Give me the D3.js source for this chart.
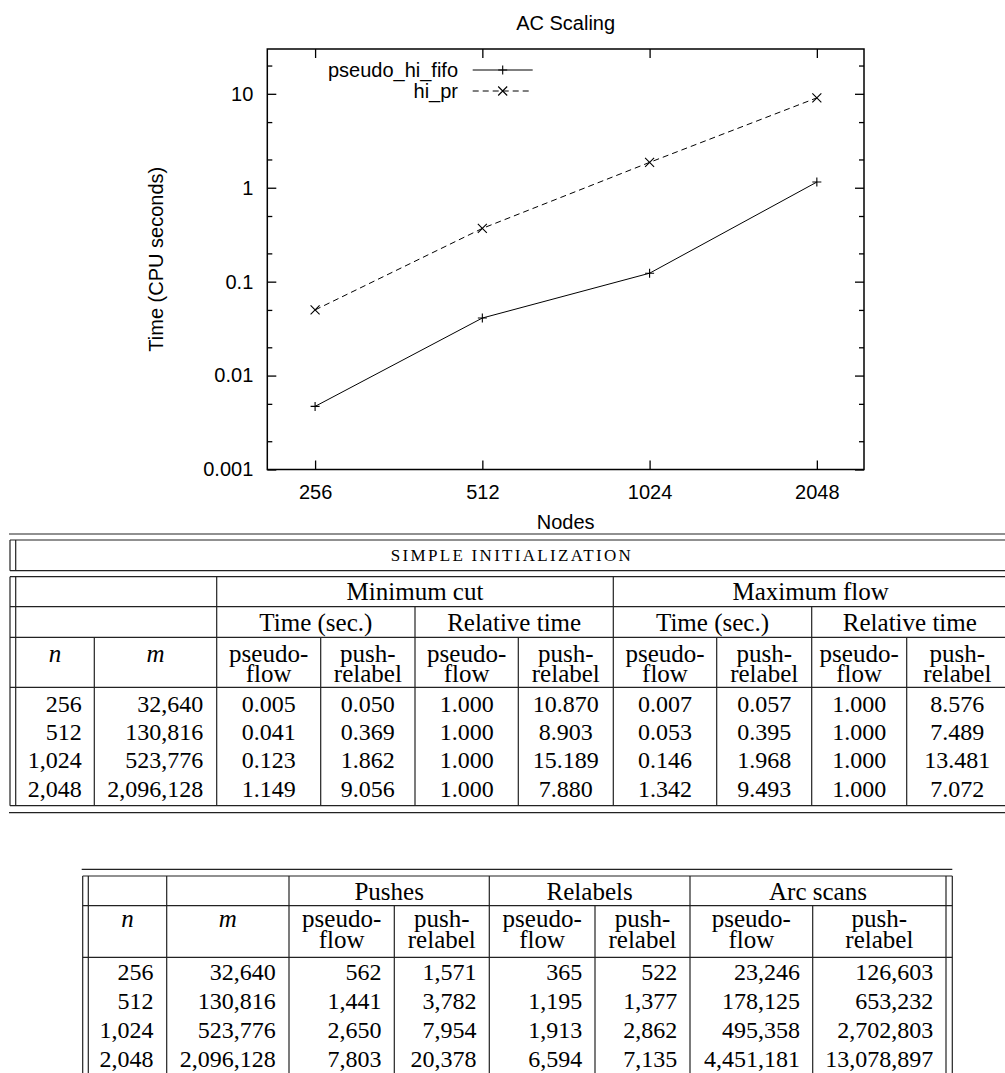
<!DOCTYPE html>
<html>
<head>
<meta charset="utf-8">
<title>AC Scaling</title>
<style>
  body { margin: 0; background: #fff; }
  svg text { fill: #000; }
  .sans { font-family: "Liberation Sans", Arial, sans-serif; font-size: 20px; }
  .serif { font-family: "Liberation Serif", "Times New Roman", serif; }
</style>
</head>
<body>
<div id="chart"></div>
<script src="https://d3js.org/d3.v7.min.js"></script>
<script>

// ---- data ----
var nodes = [256, 512, 1024, 2048];
var arcs = [32640, 130816, 523776, 2096128];

// values
var seriesNames = ['pseudo_hi_fifo', 'hi_pr'];
var plotPseudo = [0.0047, 0.041, 0.123, 1.149];
var plotHiPr = [0.050, 0.369, 1.862, 9.056];

var yTicks = [0.001, 0.01, 0.1, 1, 10];
var yTickLabels = ['0.001', '0.01', '0.1', '1', '10'];
var yMinor = [0.002, 0.005, 0.02, 0.05, 0.2, 0.5, 2, 5, 20];

// table 1 (simple initialization)
var cutPseudo = [0.005, 0.041, 0.123, 1.149];
var cutPush = [0.050, 0.369, 1.862, 9.056];
var cutRelPseudo = [1.000, 1.000, 1.000, 1.000];
var cutRelPush = [10.870, 8.903, 15.189, 7.880];
var flowPseudo = [0.007, 0.053, 0.146, 1.342];
var flowPush = [0.057, 0.395, 1.968, 9.493];
var flowRelPseudo = [1.000, 1.000, 1.000, 1.000];
var flowRelPush = [8.576, 7.489, 13.481, 7.072];

// table 2 (operation counts)
var pushesPseudo = [562, 1441, 2650, 7803];
var pushesPush = [1571, 3782, 7954, 20378];
var relabelsPseudo = [365, 1195, 1913, 6594];
var relabelsPush = [522, 1377, 2862, 7135];
var arcScansPseudo = [23246, 178125, 495358, 4451181];
var arcScansPush = [126603, 653232, 2702803, 13078897];

var width = 1005;
var height = 1073;

var svg = d3.select('#chart')
  .append('svg')
  .attr('width', width)
  .attr('height', height)
  .style('display', 'block');

// ---- plot ----
var plot = {left: 267.3, right: 864, top: 49, bottom: 469.5};

var x = d3.scaleLog().base(2)
  .domain([210, 2490])
  .range([plot.left, plot.right]);

var y = d3.scaleLog()
  .domain([0.001, 30])
  .range([plot.bottom, plot.top]);

function cleanAxis(g) {
  g.select('.domain').remove();
  g.selectAll('.tick line').attr('stroke', '#000').attr('stroke-width', 1.3);
  g.selectAll('.tick text')
    .attr('font-family', '"Liberation Sans", Arial, sans-serif')
    .attr('font-size', 20)
    .attr('fill', '#000');
  g.attr('font-family', null).attr('font-size', null);
}

// y axis, left with labels
svg.append('g')
  .attr('transform', 'translate(' + plot.left + ',0)')
  .call(d3.axisLeft(y).tickValues(yTicks).tickSize(-9).tickSizeOuter(0).tickPadding(14)
    .tickFormat(function(d, i){ return yTickLabels[i]; }))
  .call(cleanAxis);

svg.append('g')
  .attr('transform', 'translate(' + plot.left + ',0)')
  .call(d3.axisLeft(y).tickValues(yMinor).tickSize(-5).tickSizeOuter(0).tickFormat(''))
  .call(cleanAxis);

// y axis mirrored on the right
svg.append('g')
  .attr('transform', 'translate(' + plot.right + ',0)')
  .call(d3.axisRight(y).tickValues(yTicks).tickSize(-9).tickSizeOuter(0).tickFormat(''))
  .call(cleanAxis);

svg.append('g')
  .attr('transform', 'translate(' + plot.right + ',0)')
  .call(d3.axisRight(y).tickValues(yMinor).tickSize(-5).tickSizeOuter(0).tickFormat(''))
  .call(cleanAxis);

// x axis bottom with labels, top mirrored
svg.append('g')
  .attr('transform', 'translate(0,' + plot.bottom + ')')
  .call(d3.axisBottom(x).tickValues(nodes).tickSize(-9).tickSizeOuter(0).tickPadding(15)
    .tickFormat(d3.format('d')))
  .call(cleanAxis);

svg.append('g')
  .attr('transform', 'translate(0,' + plot.top + ')')
  .call(d3.axisTop(x).tickValues(nodes).tickSize(-9).tickSizeOuter(0).tickFormat(''))
  .call(cleanAxis);

svg.append('rect')
  .attr('x', plot.left)
  .attr('y', plot.top)
  .attr('width', plot.right - plot.left)
  .attr('height', plot.bottom - plot.top)
  .attr('fill', 'none')
  .attr('stroke', '#000')
  .attr('stroke-width', 1.5);

// titles
svg.append('text').attr('class', 'sans')
  .attr('x', (plot.left + plot.right) / 2).attr('y', 23).attr('dy', '0.35em')
  .attr('text-anchor', 'middle')
  .text('AC Scaling');

svg.append('text').attr('class', 'sans')
  .attr('x', (plot.left + plot.right) / 2).attr('y', 521.7).attr('dy', '0.35em')
  .attr('text-anchor', 'middle')
  .text('Nodes');

svg.append('text').attr('class', 'sans')
  .attr('transform', 'translate(156,' + ((plot.top + plot.bottom) / 2) + ') rotate(-90)')
  .attr('dy', '0.35em')
  .attr('text-anchor', 'middle')
  .text('Time (CPU seconds)');

// series
var series = [
  {name: seriesNames[0], values: plotPseudo, dash: null, marker: 'plus'},
  {name: seriesNames[1], values: plotHiPr, dash: '6,4', marker: 'cross'}
];

var line = d3.line()
  .x(function(d){ return x(d.n); })
  .y(function(d){ return y(d.v); });

function markerPath(type, cx, cy) {
  var s = 4.5;
  if (type === 'plus') {
    return 'M' + (cx - s) + ',' + cy + 'H' + (cx + s) + 'M' + cx + ',' + (cy - s) + 'V' + (cy + s);
  }
  return 'M' + (cx - s) + ',' + (cy - s) + 'L' + (cx + s) + ',' + (cy + s) +
         'M' + (cx - s) + ',' + (cy + s) + 'L' + (cx + s) + ',' + (cy - s);
}

series.forEach(function(s){
  var pts = nodes.map(function(n, i){ return {n: n, v: s.values[i]}; });

  svg.append('path')
    .datum(pts)
    .attr('d', line)
    .attr('fill', 'none')
    .attr('stroke', '#000')
    .attr('stroke-width', 1)
    .attr('stroke-dasharray', s.dash);

  svg.selectAll('.m-' + s.marker)
    .data(pts)
    .enter()
    .append('path')
    .attr('class', 'm-' + s.marker)
    .attr('d', function(d){ return markerPath(s.marker, x(d.n), y(d.v)); })
    .attr('stroke', '#000')
    .attr('stroke-width', 1.1);
});

// legend
var legend = svg.append('g');
series.forEach(function(s, i){
  var ly = 70 + i * 21;
  legend.append('text').attr('class', 'sans')
    .attr('x', 458).attr('y', ly).attr('dy', '0.35em')
    .attr('text-anchor', 'end')
    .text(s.name);
  legend.append('line')
    .attr('x1', 472.7).attr('x2', 532.7)
    .attr('y1', ly).attr('y2', ly)
    .attr('stroke', '#000').attr('stroke-width', 1)
    .attr('stroke-dasharray', s.dash);
  legend.append('path')
    .attr('d', markerPath(s.marker, 502.7, ly))
    .attr('stroke', '#000').attr('stroke-width', 1.1);
});

// ---- tables ----
var fmtInt = d3.format(',');
var fmtSec = d3.format('.3f');
var lineColor = '#222';

function hline(g, x1, x2, yy, w) {
  g.append('line').attr('x1', x1).attr('x2', x2).attr('y1', yy).attr('y2', yy)
    .attr('stroke', lineColor).attr('stroke-width', w || 1.2);
}
function vline(g, xx, y1, y2, w) {
  g.append('line').attr('x1', xx).attr('x2', xx).attr('y1', y1).attr('y2', y2)
    .attr('stroke', lineColor).attr('stroke-width', w || 1.2);
}
function label(g, txt, xx, yy, anchor, size, italic) {
  return g.append('text').attr('class', 'serif')
    .attr('x', xx).attr('y', yy).attr('dy', '0.35em')
    .attr('text-anchor', anchor || 'middle')
    .attr('font-size', size || 25)
    .attr('font-style', italic ? 'italic' : null)
    .text(txt);
}
// two stacked words in one text element (tight LaTeX-like leading)
function twoLine(g, a, b, xx, y1, y2) {
  var t = g.append('text').attr('class', 'serif')
    .attr('x', xx).attr('y', y1)
    .attr('text-anchor', 'middle')
    .attr('font-size', 25);
  t.append('tspan').attr('x', xx).attr('dy', '0.35em').text(a);
  t.append('tspan').attr('x', xx).attr('dy', (y2 - y1)).text(b);
}

// table 1
var t1 = svg.append('g');
var c1 = [15.7, 94.3, 216.7, 320.7, 415, 518.3, 613.3, 716.7, 811.7, 906.7, 1008];
var t1L = 10, t1R = 1014;
var t1Y = {rule: 534, top: 540, r1: 570.7, r1b: 576.7, r2: 606.7, r3: 637.3, head: 687.3, row0: 703.3, pitch: 28.33, bottom: 805.7, rule2: 812.7};

hline(t1, t1L - 1, t1R, t1Y.rule);
hline(t1, t1L, t1R, t1Y.top);
hline(t1, t1L, t1R, t1Y.r1);
hline(t1, t1L, t1R, t1Y.r1b);
hline(t1, t1L, t1R, t1Y.r2);
hline(t1, t1L, t1R, t1Y.r3);
hline(t1, t1L, t1R, t1Y.head);
hline(t1, t1L, t1R, t1Y.bottom);
hline(t1, t1L - 1, t1R, t1Y.rule2);

// outer double borders
[t1L, c1[0], c1[c1.length - 1], t1R].forEach(function(xx){
  vline(t1, xx, t1Y.top, t1Y.r1);
  vline(t1, xx, t1Y.r1b, t1Y.bottom);
});
vline(t1, c1[2], t1Y.r1b, t1Y.bottom);
vline(t1, c1[6], t1Y.r1b, t1Y.bottom);
[c1[4], c1[8]].forEach(function(xx){ vline(t1, xx, t1Y.r2, t1Y.bottom); });
[c1[1], c1[3], c1[5], c1[7], c1[9]].forEach(function(xx){ vline(t1, xx, t1Y.r3, t1Y.bottom); });

t1.append('text').attr('class', 'serif')
  .attr('x', (t1L + t1R) / 2).attr('y', (t1Y.top + t1Y.r1) / 2).attr('dy', '0.35em')
  .attr('text-anchor', 'middle')
  .attr('font-size', 17)
  .attr('letter-spacing', 2.3)
  .text('SIMPLE INITIALIZATION');

label(t1, 'Minimum cut', (c1[2] + c1[6]) / 2, (t1Y.r1b + t1Y.r2) / 2);
label(t1, 'Maximum flow', (c1[6] + c1[10]) / 2, (t1Y.r1b + t1Y.r2) / 2);
[[2, 4, 'Time (sec.)'], [4, 6, 'Relative time'], [6, 8, 'Time (sec.)'], [8, 10, 'Relative time']]
  .forEach(function(h){
    label(t1, h[2], (c1[h[0]] + c1[h[1]]) / 2, (t1Y.r2 + t1Y.r3) / 2);
  });

label(t1, 'n', (c1[0] + c1[1]) / 2, 653.3, 'middle', 25, true);
label(t1, 'm', (c1[1] + c1[2]) / 2, 653.3, 'middle', 25, true);
for (var k = 2; k < 10; k++) {
  var mid = (c1[k] + c1[k + 1]) / 2;
  if (k % 2 === 0) twoLine(t1, 'pseudo-', 'flow', mid, 653.3, 673.3);
  else twoLine(t1, 'push-', 'relabel', mid, 653.3, 673.3);
}

var t1Cols = [cutPseudo, cutPush, cutRelPseudo, cutRelPush, flowPseudo, flowPush, flowRelPseudo, flowRelPush];

var t1Rows = t1.selectAll('.t1row')
  .data(nodes)
  .enter()
  .append('g')
  .attr('class', 't1row')
  .attr('transform', function(d, i){ return 'translate(0,' + (t1Y.row0 + i * t1Y.pitch) + ')'; });

t1Rows.each(function(d, i){
  var g = d3.select(this);
  label(g, fmtInt(d), c1[1] - 12.6, 0, 'end', 24);
  label(g, fmtInt(arcs[i]), c1[2] - 13.4, 0, 'end', 24);
  t1Cols.forEach(function(col, j){
    label(g, fmtSec(col[i]), (c1[j + 2] + c1[j + 3]) / 2, 0, 'middle', 24);
  });
});

// table 2
var t2 = svg.append('g');
var c2 = [88.3, 166.7, 289, 394.3, 489.3, 595, 690, 812.7, 946];
var t2L = 82.7, t2R = 952.3;
var t2Y = {rule: 869.3, top: 876, r1: 905.7, head: 957.3, row0: 971.7, pitch: 28.9, bottom: 1073.5};

hline(t2, t2L - 1, t2R, t2Y.rule);
hline(t2, t2L, t2R, t2Y.top);
hline(t2, t2L, t2R, t2Y.r1);
hline(t2, t2L, t2R, t2Y.head);
hline(t2, t2L, t2R, t2Y.bottom);

[t2L, c2[0], c2[8], t2R, c2[1], c2[2], c2[4], c2[6]].forEach(function(xx){
  vline(t2, xx, t2Y.top, t2Y.bottom);
});
[c2[3], c2[5], c2[7]].forEach(function(xx){ vline(t2, xx, t2Y.r1, t2Y.bottom); });

[[2, 4, 'Pushes'], [4, 6, 'Relabels'], [6, 8, 'Arc scans']].forEach(function(h){
  label(t2, h[2], (c2[h[0]] + c2[h[1]]) / 2, (t2Y.top + t2Y.r1) / 2);
});

label(t2, 'n', (c2[0] + c2[1]) / 2, 918.3, 'middle', 25, true);
label(t2, 'm', (c2[1] + c2[2]) / 2, 918.3, 'middle', 25, true);
for (var q = 2; q < 8; q++) {
  var mid2 = (c2[q] + c2[q + 1]) / 2;
  if (q % 2 === 0) twoLine(t2, 'pseudo-', 'flow', mid2, 918.3, 939.3);
  else twoLine(t2, 'push-', 'relabel', mid2, 918.3, 939.3);
}

var t2Cols = [pushesPseudo, pushesPush, relabelsPseudo, relabelsPush, arcScansPseudo, arcScansPush];

var t2Rows = t2.selectAll('.t2row')
  .data(nodes)
  .enter()
  .append('g')
  .attr('class', 't2row')
  .attr('transform', function(d, i){ return 'translate(0,' + (t2Y.row0 + i * t2Y.pitch) + ')'; });

t2Rows.each(function(d, i){
  var g = d3.select(this);
  label(g, fmtInt(d), c2[1] - 13.2, 0, 'end', 24);
  label(g, fmtInt(arcs[i]), c2[2] - 13.2, 0, 'end', 24);
  t2Cols.forEach(function(col, j){
    label(g, fmtInt(col[i]), c2[j + 3] - 12.8, 0, 'end', 24);
  });
});

</script>
</body>
</html>
